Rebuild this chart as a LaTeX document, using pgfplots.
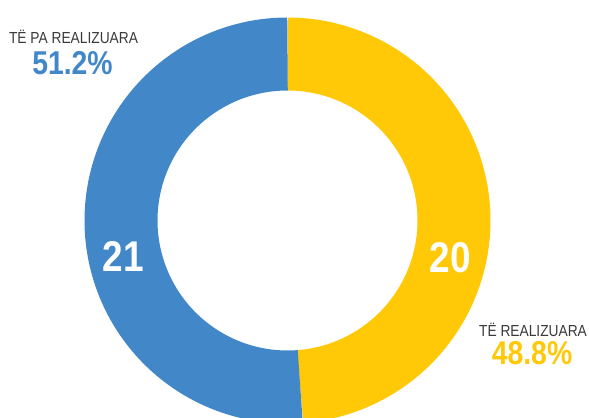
\documentclass[border=0pt]{standalone}
\usepackage{pgfplots}
\pgfplotsset{compat=1.18}
\usepackage{fontspec}
\setmainfont{Liberation Sans}
\newfontfamily\cond{Liberation Sans}[FakeStretch=0.86]
\definecolor{cblue}{HTML}{4288C8}
\definecolor{cyellow}{HTML}{FFC907}
\definecolor{ctext}{HTML}{3A3A3A}
\begin{document}
\begin{tikzpicture}
\useasboundingbox (0,0) rectangle (589bp,418bp);
% data
\pgfmathsetmacro{\valDone}{20}
\pgfmathsetmacro{\valNotDone}{21}
\pgfmathsetmacro{\total}{\valDone+\valNotDone}
\pgfmathsetmacro{\angA}{90}
\pgfmathsetmacro{\angB}{90-360*\valDone/\total}
\pgfmathsetmacro{\angC}{\angB-360*\valNotDone/\total}
\begin{axis}[
  at={(0,0)}, anchor=origin,
  scale only axis, width=589bp, height=418bp,
  xmin=0, xmax=589, ymin=0, ymax=418,
  hide axis, clip=true,
]
% ring segments (centre 287.5,197.5; mid radius 166.5; ring width 73)
\addplot[cyellow, line width=73bp, line cap=butt, domain=\angA:\angB, samples=240, variable=\t]
  ({287.5+166.5*cos(\t)},{197.5+166.5*sin(\t)});
\addplot[cblue, line width=73bp, line cap=butt, domain=\angB:\angC, samples=240, variable=\t]
  ({287.5+166.5*cos(\t)},{197.5+166.5*sin(\t)});
% labels
\node[anchor=base, text=white, font=\cond\bfseries\fontsize{43bp}{43bp}\selectfont] at (axis cs:123.3,146.3) {21};
\node[anchor=base, text=white, font=\cond\bfseries\fontsize{43bp}{43bp}\selectfont] at (axis cs:450.3,145) {20};
\node[anchor=base, text=ctext, font=\cond\fontsize{16bp}{16bp}\selectfont] at (axis cs:73.5,374.5) {TË PA REALIZUARA};
\node[anchor=base, text=cblue, font=\cond\bfseries\fontsize{33bp}{33bp}\selectfont] at (axis cs:72.5,343) {51.2\%};
\node[anchor=base, text=ctext, font=\cond\fontsize{16bp}{16bp}\selectfont] at (axis cs:533,81.3) {TË REALIZUARA};
\node[anchor=base, text=cyellow, font=\cond\bfseries\fontsize{33bp}{33bp}\selectfont] at (axis cs:532,53) {48.8\%};
\end{axis}
\end{tikzpicture}
\end{document}
